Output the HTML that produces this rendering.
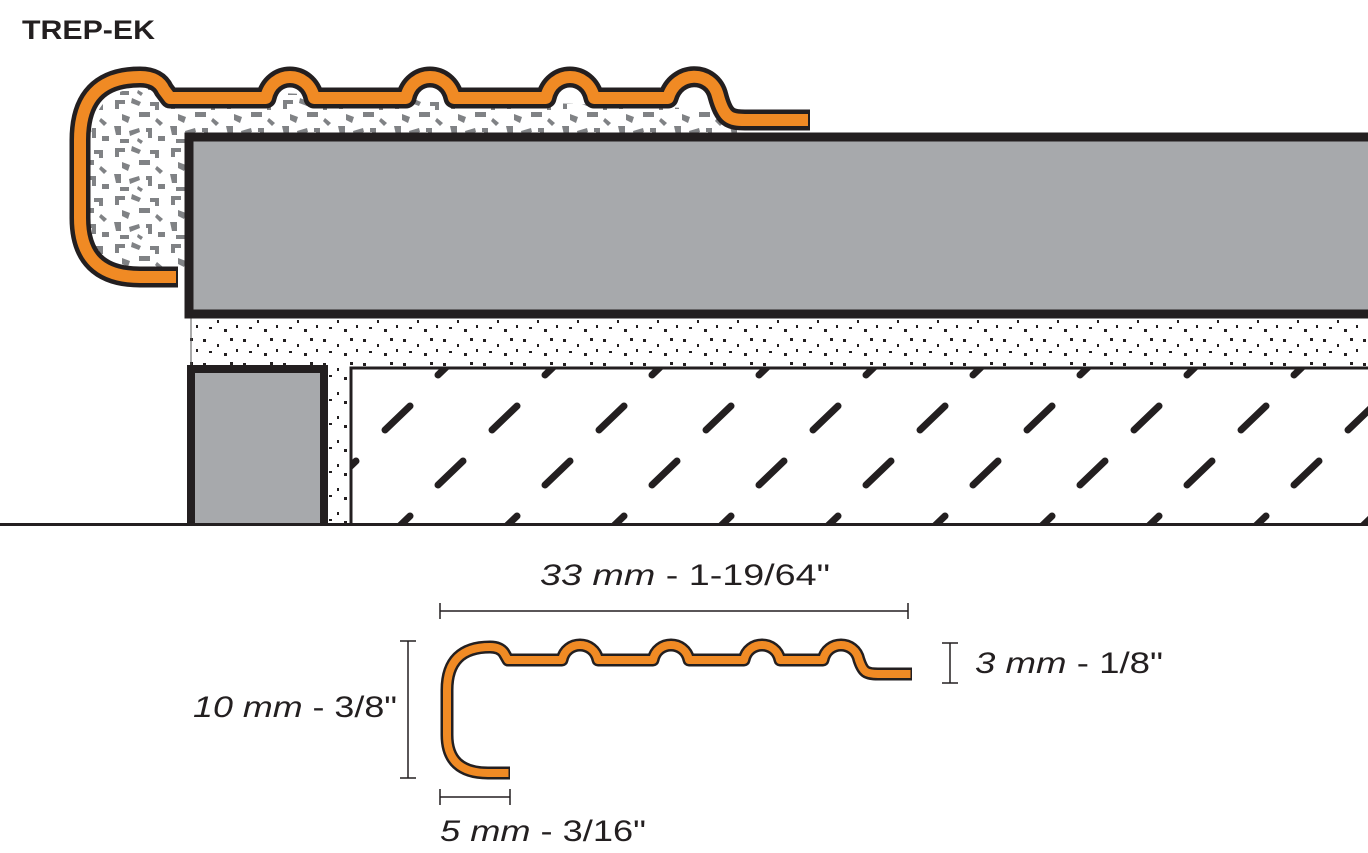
<!DOCTYPE html>
<html><head><meta charset="utf-8"><style>html,body{margin:0;padding:0;background:#fff}svg{display:block}</style></head>
<body>
<svg width="1368" height="853" viewBox="0 0 1368 853" xmlns="http://www.w3.org/2000/svg">
<defs>
<pattern id="spk" patternUnits="userSpaceOnUse" width="56" height="48">
<rect width="56" height="48" fill="#fff"/>
<g fill="#808285">
<path d="M3 4h10v4h-6v5h-4z"/><path d="M20 2l9 4-2 4-8-3z"/><path d="M38 6h9v8h-4v-4h-5z"/>
<path d="M10 18l8 3-2 6-6-3z"/><path d="M27 16h11v5h-11z"/><path d="M45 22l6 5-3 3-5-5z"/>
<path d="M2 30h7v9h-5z"/><path d="M17 35l10-3 1 4-10 4z"/><path d="M34 32h6v10h-4v-6h-2z"/>
<path d="M46 40h7v5h-7z"/><path d="M8 43h9v4h-9z"/><path d="M26 42l5 3-2 3-4-3z"/>
</g></pattern>
<pattern id="dot" patternUnits="userSpaceOnUse" width="40" height="24">
<rect width="40" height="24" fill="#fff"/>
<g fill="#231f20"><rect x="3" y="3" width="3" height="3"/><rect x="17" y="8" width="2" height="3"/><rect x="30" y="2" width="3" height="3"/><rect x="9" y="15" width="3" height="2"/><rect x="24" y="17" width="3" height="3"/><rect x="36" y="13" width="2" height="3"/></g>
</pattern>
<pattern id="hatch" patternUnits="userSpaceOnUse" x="380" y="347" width="107" height="110">
<g stroke="#231f20" stroke-width="7" stroke-linecap="round"><line x1="58" y1="28" x2="83" y2="4"/><line x1="5" y1="83" x2="30" y2="59"/></g>
</pattern>
</defs>
<text x="22" y="39" font-family="Liberation Sans, sans-serif" font-weight="bold" font-size="27" fill="#231f20" textLength="133" lengthAdjust="spacingAndGlyphs">TREP-EK</text>
<path d="M90 150 Q90 90 140 88 L740 110 L740 133 L185 133 L185 270 L140 268 Q90 268 90 220 Z" fill="url(#spk)"/>
<rect x="190" y="318" width="1178" height="50" fill="url(#dot)"/>
<rect x="328" y="360" width="24" height="165" fill="url(#dot)"/>
<line x1="191" y1="318" x2="191" y2="366" stroke="#555" stroke-width="1"/>
<rect x="189" y="137" width="1185" height="177" fill="#a7a9ac" stroke="#231f20" stroke-width="9"/>
<rect x="191" y="369" width="133" height="160" fill="#a7a9ac" stroke="#231f20" stroke-width="8"/>
<rect x="351" y="368" width="1020" height="157" fill="#fff"/>
<rect x="351" y="368" width="1020" height="157" fill="url(#hatch)"/>
<path d="M351 525 V368 H1368" fill="none" stroke="#231f20" stroke-width="3"/>
<rect x="0" y="523" width="1368" height="30" fill="#fff"/>
<line x1="0" y1="524.5" x2="1368" y2="524.5" stroke="#231f20" stroke-width="3"/>
<g fill="none" stroke-linejoin="round">
<path d="M178 277 L140 277 Q80 277 80 218 L80 140 Q80 77 140 77 Q158 77 164 90 L170 98 L266 98 C272 70 308 70 314 98 L406 98 C412 70 448 70 454 98 L546 98 C552 70 588 70 594 98 L668 98 C676 70 712 70 718 96 C724 118 730 120 745 120 L810 120" stroke="#231f20" stroke-width="21"/>
<path d="M176 277 L140 277 Q80 277 80 218 L80 140 Q80 77 140 77 Q158 77 164 90 L170 98 L266 98 C272 70 308 70 314 98 L406 98 C412 70 448 70 454 98 L546 98 C552 70 588 70 594 98 L668 98 C676 70 712 70 718 96 C724 118 730 120 745 120 L808 120" stroke="#f08a24" stroke-width="12"/>
</g>
<g fill="none" stroke-linejoin="round">
<path d="M510 773 L488 773 Q447 773 447 735 L447 690 Q447 647 490 647 Q500 647 504 653 L508 660 L562 660 C566 640 594 640 598 660 L653 660 C657 640 685 640 689 660 L744 660 C748 640 776 640 780 660 L823 660 C827 640 855 640 859 660 C863 672 866 674 878 674 L912 674" stroke="#231f20" stroke-width="13"/>
<path d="M508.5 773 L488 773 Q447 773 447 735 L447 690 Q447 647 490 647 Q500 647 504 653 L508 660 L562 660 C566 640 594 640 598 660 L653 660 C657 640 685 640 689 660 L744 660 C748 640 776 640 780 660 L823 660 C827 640 855 640 859 660 C863 672 866 674 878 674 L910.5 674" stroke="#f08a24" stroke-width="8"/>
</g>
<g stroke="#231f20" stroke-width="1.5">
<line x1="440" y1="611" x2="908" y2="611"/><line x1="440" y1="603" x2="440" y2="619"/><line x1="908" y1="603" x2="908" y2="619"/>
<line x1="408" y1="641" x2="408" y2="778"/><line x1="400" y1="641" x2="416" y2="641"/><line x1="400" y1="778" x2="416" y2="778"/>
<line x1="950" y1="643" x2="950" y2="683"/><line x1="942" y1="643" x2="958" y2="643"/><line x1="942" y1="683" x2="958" y2="683"/>
<line x1="440" y1="797" x2="510" y2="797"/><line x1="440" y1="789" x2="440" y2="805"/><line x1="510" y1="789" x2="510" y2="805"/>
</g>
<g font-family="Liberation Sans, sans-serif" font-size="30" fill="#231f20">
<text x="540" y="585" textLength="290" lengthAdjust="spacingAndGlyphs"><tspan font-style="italic">33 mm</tspan> - 1-19/64"</text>
<text x="193" y="717" textLength="204" lengthAdjust="spacingAndGlyphs"><tspan font-style="italic">10 mm</tspan> - 3/8"</text>
<text x="975" y="673" textLength="188" lengthAdjust="spacingAndGlyphs"><tspan font-style="italic">3 mm</tspan> - 1/8"</text>
<text x="440" y="841" textLength="206" lengthAdjust="spacingAndGlyphs"><tspan font-style="italic">5 mm</tspan> - 3/16"</text>
</g>
</svg>
</body></html>
